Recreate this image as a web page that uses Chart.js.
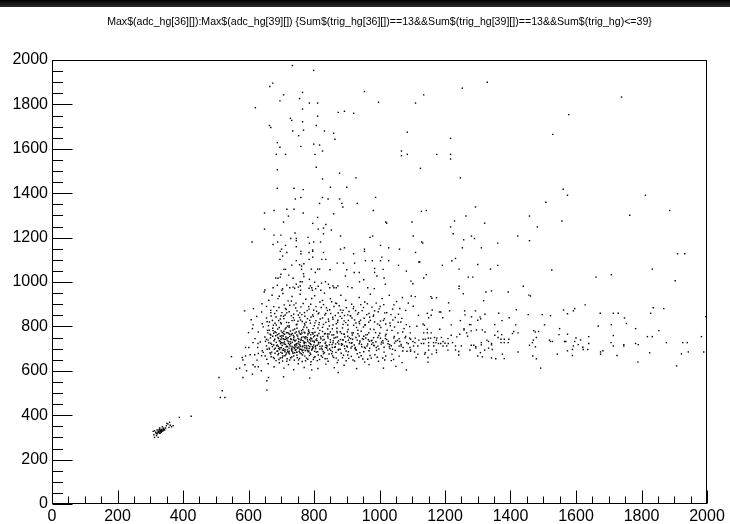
<!DOCTYPE html>
<html>
<head>
<meta charset="utf-8">
<script src="https://cdn.jsdelivr.net/npm/chart.js@4"></script>
<style>
  body { margin: 0; background: #fff; }
  #wrap { position: relative; width: 730px; height: 524px; }
  #topbar { position: absolute; left: 0; top: 0; width: 730px; height: 7px;
            background: linear-gradient(to bottom, #000, #2a2a2a); }
</style>
</head>
<body>
<div id="wrap">
  <canvas id="scatter" width="730" height="524"></canvas>
  <div id="topbar"></div>
</div>
<script>
const TITLE = 'Max$(adc_hg[36][]):Max$(adc_hg[39][]) {Sum$(trig_hg[36][])==13&&Sum$(trig_hg[39][])==13&&Sum$(trig_hg)<=39}';
const X_RANGE = [0, 2000];
const Y_RANGE = [0, 2000];

// small blob near (330, 330)
const lowCluster = [
  [313,330],[317,323],[311,312],[319,308],[324,327],[327,333],[331,330],[334,336],[339,338],[344,333],
  [341,342],[337,348],[349,353],[354,360],[359,368],[365,348],[370,353],[357,345],[347,342],[329,318],
  [324,300],[321,315],[334,323],[313,300],[327,327],[331,325],[335,330],[339,330],[343,336],[321,333],
  [309,327],[329,342],[351,363],[361,355],[389,390],[425,395],[326,322],[330,320],[336,327],[322,320],
  [318,318],[333,333],[340,335],[328,336]
];

// left rising edge of the main blob
const risingArm = [
  [520,510],[514,480],[528,480],[510,570],[594,600],[583,649],[591,667],[605,672],[619,672],[630,678],
  [626,648],[614,627],[620,618],[630,618],[589,627],[601,705],[614,727],[629,723],[656,555],[787,567],
  [874,592],[612,585],[656,513],[1082,604],[707,573],[639,600],[793,604],[548,664],[563,608],[573,612],
  [588,870],[583,570],[581,660],[600,772],[614,807],[591,705],[661,570]
];

// dense core 600..1090
const coreDense = [
  [648,955],[672,940],[690,925],[705,948],[721,915],[733,935],[745,905],[758,945],[775,922],[790,900],
  [802,938],[818,910],[832,950],[850,925],[866,905],[882,940],[897,918],[915,900],[938,930],[955,910],
  [972,945],[990,905],[1008,925],[1030,940],[1052,912],[1070,930],[1088,905],
  [615,880],[640,865],[655,890],[668,872],[680,858],[693,885],[702,862],[715,876],[726,895],[738,855],
  [748,870],[760,888],[771,862],[785,878],[796,852],[808,868],[822,885],[836,858],[848,875],[861,890],
  [874,860],[889,872],[903,852],[920,880],[936,862],[951,885],[968,858],[985,870],[1002,890],[1022,862],
  [1040,878],[1058,855],[1080,872],
  [608,830],[625,845],[642,812],[655,838],[664,820],[676,805],[684,842],[692,826],[700,812],[708,835],
  [716,818],[724,803],[731,848],[740,828],[748,810],[756,840],[764,822],[772,806],[780,835],[789,815],
  [798,845],[806,826],[815,808],[826,838],[836,818],[847,802],[858,832],[868,812],[880,845],[892,825],
  [903,806],[916,838],[928,815],[942,828],[956,808],[970,842],[985,820],[1000,805],[1015,835],[1032,815],
  [1048,840],[1065,820],[1082,808],
  [612,790],[630,775],[645,798],[658,782],[666,765],[674,792],[681,776],[688,762],[694,795],[700,780],
  [706,768],[712,788],[718,772],[724,796],[730,762],[736,784],[742,770],[748,792],[754,778],[760,764],
  [766,786],[772,770],[778,795],[784,778],[790,762],[797,790],[803,774],[810,760],[818,782],[826,796],
  [834,768],[842,788],[850,775],[860,762],[870,792],[880,776],[892,764],[904,786],[916,770],[930,795],
  [944,778],[958,762],[972,788],[988,772],[1004,795],[1020,765],[1038,782],[1056,770],[1075,790],
  [620,745],[636,730],[650,752],[660,738],[668,724],[674,756],[680,742],[685,728],[690,750],[694,735],
  [698,722],[702,758],[706,744],[710,730],[714,752],[718,738],[722,724],[726,755],[730,741],[734,728],
  [738,749],[742,734],[746,722],[750,756],[754,742],[758,728],[762,750],[766,736],[770,723],[775,754],
  [780,740],[785,726],[790,748],[796,734],[802,758],[808,744],[814,728],[820,752],[827,738],[834,724],
  [842,756],[850,740],[858,726],[866,750],[875,735],[884,722],[894,752],[905,738],[916,726],[928,750],
  [940,734],[952,756],[966,740],[980,726],[995,750],[1010,735],[1026,722],[1044,748],[1062,732],[1080,755],
  [628,705],[642,690],[655,712],[664,698],[671,684],[677,716],[682,702],[687,688],[691,710],[695,696],
  [699,683],[703,714],[707,700],[711,686],[715,708],[719,694],[723,681],[727,712],[731,698],[735,685],
  [739,706],[743,692],[747,716],[751,702],[755,688],[759,710],[763,696],[767,682],[772,714],[777,700],
  [782,686],[787,708],[793,694],[799,716],[805,700],[811,686],[818,710],[825,696],[832,682],[840,712],
  [848,698],[856,686],[865,708],[874,694],[884,715],[894,700],[905,686],[916,710],[928,695],[940,682],
  [954,706],[968,690],[982,714],[998,698],[1014,684],[1030,708],[1048,692],[1066,712],[1084,688],
  [640,668],[656,652],[668,675],[676,660],[684,646],[690,672],[697,658],[704,644],[711,668],[718,654],
  [725,676],[732,662],[740,648],[748,670],[756,656],[764,642],[772,666],[781,652],[790,674],[800,660],
  [810,646],[822,668],[834,654],[846,676],[860,660],[874,648],[890,670],[906,656],[924,644],[944,668],
  [964,652],[986,672],[1010,658],[1036,646],[1060,666],
  [660,632],[678,618],[694,636],[708,612],[722,628],[738,605],[752,632],[770,615],[790,628],[812,610],
  [836,630],[862,614],[892,625],[930,610],[968,628],[1012,612],[1050,620],
  [692,745],[697,731],[701,748],[705,726],[709,741],[713,719],[717,746],[721,733],[725,718],[729,744],
  [733,710],[737,740],[741,715],[745,738],[749,705],[753,732],[757,716],[761,742],[765,708],[769,730],
  [773,745],[777,712],[781,734],[785,700],[789,722],[793,744],[797,706],[801,728],[805,712],[809,736],
  [700,704],[708,692],[716,680],[724,702],[732,690],[740,700],[748,684],[756,698],[764,690],[772,704],
  [780,692],[788,680],[796,702],[710,765],[722,770],[734,768],[746,775],[758,766],[770,774],[782,768],
  [794,772],
  [835,705],[855,718],[872,728],[888,740],[900,712],[912,745],[925,700],[938,722],[948,745],[962,712],
  [975,735],[990,705],[1005,720],[1018,745],[1032,700],[1046,725],[1060,745],[1072,705],[1088,722]
];

// more of the core, filling the darkest part
const coreExtra = [
  [652,733],[659,771],[663,702],[667,748],[671,719],[675,781],[679,697],[683,758],[686,713],[689,689],
  [693,767],[696,704],[699,741],[703,679],[706,757],[709,721],[712,695],[716,772],[719,708],[721,749],
  [724,688],[727,731],[731,765],[733,703],[736,679],[739,753],[742,717],[745,696],[748,761],[751,724],
  [754,707],[757,681],[760,737],[763,770],[766,712],[769,693],[772,751],[775,727],[778,703],[781,762],
  [784,689],[787,741],[791,718],[794,697],[797,766],[801,733],[804,708],[807,684],[811,757],[814,721],
  [818,698],[821,744],[825,712],[828,687],[832,766],[836,729],[839,703],[843,748],[847,717],[851,692],
  [855,761],[859,735],[863,706],[867,683],[871,752],[876,721],[880,697],[884,768],[889,738],[893,711],
  [898,689],[903,756],[908,727],[913,703],[918,742],[923,716],[929,694],[934,767],[940,729],[946,708],
  [952,686],[958,748],[964,721],[970,701],[977,737],[984,714],[991,692],[998,759],[1006,729],[1014,706],
  [1022,741],[1031,718],[1040,697],[1050,733],[1060,711],[1071,689],[1083,727],
  [641,902],[662,918],[677,889],[694,936],[709,897],[717,861],[731,914],[744,883],[752,851],[767,903],
  [779,871],[793,926],[806,889],[813,857],[829,898],[841,872],[854,911],[865,849],[877,893],[886,862],
  [899,884],[912,847],[927,871],[943,898],[961,853],[977,887],[996,866],[1013,898],[1035,853],[1062,881],
  [657,821],[669,847],[681,814],[697,833],[712,851],[723,817],[737,839],[751,823],[763,853],[776,819],
  [791,842],[803,816],[819,833],[833,851],[845,823],[857,841],[872,819],[885,836],[897,817],[911,848],
  [924,829],[939,812],[953,837],[967,819],[981,845],[1003,824],[1019,811],[1041,829],[1068,836],
  [663,783],[677,769],[689,788],[703,773],[715,794],[728,779],[741,788],[755,771],[769,797],[783,784],
  [797,771],[812,793],[826,777],[841,766],[856,789],[871,771],[887,793],[902,775],[917,761],[934,783],
  [951,797],[967,771],[983,786],[1001,769],[1023,783],[1046,797],[1071,775],
  [645,683],[657,697],[669,663],[681,679],[693,651],[705,667],[717,643],[729,659],[741,681],[753,649],
  [765,671],[777,657],[791,641],[803,663],[817,651],[829,677],[843,643],[857,667],[871,637],[887,659],
  [903,671],[919,649],[937,661],[955,639],[975,657],[997,643],[1019,667],[1043,651],[1069,637]
];

// third pass over the core
const coreExtra2 = [
  [655,742],[662,726],[668,761],[673,709],[678,735],[684,772],[688,716],[692,701],[697,756],[701,727],
  [704,693],[708,778],[713,742],[717,711],[720,686],[725,765],[729,723],[732,696],[737,759],[740,737],
  [744,708],[747,683],[751,746],[755,719],[759,697],[762,781],[767,753],[771,729],[774,691],[779,749],
  [783,713],[786,771],[790,734],[795,709],[799,753],[802,688],[806,739],[810,715],[815,768],[819,727],
  [823,702],[827,755],[831,741],[837,715],[842,693],[846,766],[850,729],[856,705],[861,748],[866,721],
  [870,777],[875,697],[881,741],[887,719],[892,766],[897,731],[902,707],[908,749],[914,724],[920,771],
  [926,705],[932,738],[938,757],[945,719],[951,741],[957,702],[963,763],[969,733],[976,719],[982,749],
  [989,731],[995,711],[1003,747],[1011,725],[1018,757],[1027,733],[1036,713],[1045,755],[1055,737],[1066,719],
  [1078,749],
  [668,862],[686,871],[699,848],[713,881],[724,866],[739,897],[757,861],[772,846],[784,889],[799,873],
  [815,861],[826,917],[838,884],[851,858],[869,903],[881,874],[893,849],[907,867],[921,889],[933,855],
  [947,871],[963,902],[982,851],[999,879],[1016,861],[1044,897],
  [661,803],[673,827],[685,806],[698,817],[707,846],[719,801],[733,826],[746,807],[759,829],[771,813],
  [787,827],[801,803],[816,817],[829,809],[844,833],[858,806],[873,828],[889,809],[905,827],[921,805],
  [938,821],[956,805],[972,827],[994,811],[1012,827],[1033,803],[1057,819],
  [651,667],[666,681],[679,655],[692,678],[703,659],[714,673],[726,649],[738,667],[749,659],[761,677],
  [774,645],[786,669],[798,651],[813,671],[826,661],[840,655],[854,677],[868,657],[883,679],[898,645],
  [914,665],[932,677],[949,653],[971,669],[993,661],[1016,649],[1038,675]
];

// band going right, 1090..2000
const bandRight = [
  [1097,937],[1109,934],[1157,934],[1160,927],[1174,929],[1256,947],[1325,955],[1393,955],[1456,941],[1461,937],
  [1211,906],[1318,916],[1103,891],[1161,874],[1183,865],[1187,865],[1146,859],[1119,850],[1158,850],[1150,839],
  [1214,870],[1260,870],[1293,870],[1261,852],[1281,843],[1322,855],[1364,859],[1418,875],[1307,843],[1309,834],
  [1300,828],[1396,839],[1454,853],[1497,853],[1522,848],[1562,874],[1574,857],[1193,839],[1247,826],[1374,826],
  [1133,811],[1137,805],[1114,801],[1092,799],[1219,807],[1275,808],[1279,808],[1352,808],[1416,807],[1504,807],
  [1146,787],[1184,787],[1258,790],[1258,784],[1314,784],[1280,780],[1296,784],[1322,775],[1361,777],[1410,777],
  [1550,790],[1471,781],[1476,775],[1486,777],[1094,771],[1135,771],[1146,771],[1158,771],[1219,760],[1236,753],
  [1245,765],[1266,771],[1269,756],[1352,760],[1362,750],[1373,763],[1371,742],[1381,742],[1406,768],[1423,771],
  [1395,742],[1548,763],[1574,765],[1092,747],[1095,742],[1109,747],[1120,738],[1133,742],[1140,742],[1149,747],
  [1156,747],[1168,750],[1175,747],[1174,738],[1189,750],[1209,745],[1328,738],[1333,732],[1342,723],[1342,717],
  [1470,738],[1479,750],[1519,738],[1522,732],[1528,732],[1565,732],[1569,732],[1102,732],[1108,727],[1128,723],
  [1135,723],[1150,727],[1165,727],[1172,727],[1180,723],[1187,723],[1194,732],[1200,724],[1210,723],[1223,727],
  [1280,715],[1288,715],[1311,727],[1311,717],[1371,727],[1381,727],[1393,727],[1458,715],[1467,727],[1476,708],
  [1093,705],[1104,712],[1117,712],[1150,712],[1166,712],[1194,712],[1205,712],[1232,712],[1250,712],[1294,708],
  [1294,702],[1276,694],[1333,702],[1344,696],[1321,693],[1095,694],[1095,688],[1107,685],[1140,682],[1150,693],
  [1174,693],[1174,682],[1209,693],[1232,694],[1242,687],[1242,671],[1308,682],[1375,675],[1423,685],[1468,667],
  [1543,675],[1574,690],[1117,675],[1138,675],[1160,675],[1300,667],[1314,663],[1342,658],[1355,654],[1381,655],
  [1479,654],[1112,660],[1148,660],[1148,639],[1492,612],
  [1628,897],[1596,880],[1592,870],[1674,859],[1714,859],[1729,859],[1748,838],[1836,884],[1868,880],[1828,859],
  [1996,844],[1668,802],[1708,808],[1754,813],[1782,790],[1853,781],[1600,748],[1596,732],[1607,718],[1614,739],
  [1639,754],[1592,712],[1621,706],[1622,696],[1636,696],[1639,723],[1589,696],[1589,669],[1714,759],[1707,727],
  [1714,712],[1746,718],[1746,712],[1782,723],[1790,718],[1818,754],[1833,754],[1876,727],[1926,727],[1940,727],
  [1983,754],[1682,690],[1675,685],[1675,675],[1725,669],[1825,681],[1922,676],[1943,685],[1990,685],[1789,639],
  [1907,622]
];

// sparse events above ~950
const upperSpread = [
  [734,1975],[799,1953],[674,1896],[665,1881],[707,1843],[765,1854],[696,1816],[756,1826],[786,1806],[811,1806],
  [621,1785],[765,1779],[954,1858],[997,1810],[1135,1843],[1110,1806],[1253,1873],[1329,1900],[874,1764],[893,1769],
  [921,1760],[811,1747],[728,1737],[732,1728],[765,1722],[664,1705],[668,1696],[807,1705],[735,1680],[768,1684],
  [832,1680],[860,1670],[753,1659],[864,1643],[1085,1675],[1217,1647],[688,1628],[696,1607],[760,1611],[799,1621],
  [817,1617],[826,1590],[685,1575],[713,1575],[803,1575],[1067,1590],[1067,1569],[1085,1575],[1175,1575],[1217,1575],
  [1217,1554],[688,1506],[807,1517],[1125,1512],[826,1464],[878,1490],[928,1469],[1247,1469],[688,1422],[739,1422],
  [767,1416],[850,1427],[900,1427],[743,1374],[760,1381],[826,1381],[843,1374],[878,1374],[988,1381],[885,1354],
  [888,1338],[932,1354],[817,1354],[649,1311],[678,1322],[717,1328],[739,1328],[767,1311],[722,1297],[811,1291],
  [860,1307],[981,1322],[1128,1318],[1143,1322],[1293,1338],[1264,1297],[707,1270],[796,1264],[836,1259],[1019,1270],
  [1022,1265],[1099,1270],[1229,1275],[1217,1248],[1321,1265],[649,1238],[813,1238],[829,1243],[853,1234],[678,1211],
  [699,1211],[742,1221],[829,1217],[881,1207],[971,1201],[979,1207],[1103,1207],[1225,1217],[1281,1207],[1290,1196],
  [611,1180],[675,1169],[689,1180],[713,1165],[729,1196],[746,1196],[746,1186],[782,1201],[786,1175],[799,1180],
  [820,1180],[1129,1180],[1132,1175],[1257,1190],[1361,1175],[701,1148],[697,1138],[717,1133],[746,1159],[760,1138],
  [760,1127],[785,1133],[796,1144],[796,1138],[829,1133],[881,1148],[893,1154],[921,1127],[954,1148],[954,1138],
  [1003,1165],[1028,1154],[1061,1148],[1110,1133],[1253,1154],[1311,1154],[704,1117],[696,1102],[746,1096],[785,1102],
  [796,1112],[824,1102],[836,1102],[957,1096],[978,1096],[1003,1096],[1007,1112],[1028,1096],[1221,1096],[1232,1106],
  [1739,1833],[1578,1754],[1529,1665],[1561,1418],[1574,1391],[1508,1359],[1812,1391],[1886,1322],[1764,1301],[1458,1297],
  [1557,1275],[1482,1248],[1422,1207],[1458,1186],[1910,1127],[1932,1127],[1123,1090],[1192,1075],[1300,1079],[1339,1058],
  [1361,1075],[1243,1058],[1143,1033],[1135,1018],[1271,1022],[1285,1022],[1243,981],[1243,970],[1342,960],[1439,981],
  [1526,1054],[1661,1022],[1708,1033],[1833,1058],[1903,1006],
  [871,1085],[890,1085],[924,1085],[1058,1075],[1082,1049],[1096,1004],[1102,992],[1120,1090],[1011,1057],[985,1061],
  [985,1043],[992,1027],[1014,1018],[1018,990],[984,970],[964,974],[952,1010],[923,1043],[938,1043],[939,1001],
  [900,1055],[896,1027],[903,979],[916,974],[873,982],[868,974],[861,974],[858,982],[849,1055],[835,1001],
  [844,990],[823,995],[813,981],[802,999],[789,983],[793,974],[785,972],[804,1043],[811,1058],[817,1058],
  [792,1058],[768,1037],[769,1025],[762,1057],[762,1072],[756,1078],[769,1082],[786,1012],[758,1001],[764,1001],
  [758,982],[746,990],[736,1017],[732,1076],[723,1031],[713,1057],[708,1057],[699,1035],[697,1022],[690,1017],
  [683,1018],[688,985],[704,970],[702,963],[717,986],[726,974],[736,977],[741,972],[675,974],[650,964],
  [752,977],[759,963],[795,963],[805,970],[821,963],[848,974]
];

const allEvents = [].concat(lowCluster, risingArm, coreDense, coreExtra, coreExtra2, bandRight, upperSpread)
  .map(p => ({ x: p[0], y: p[1] }));

// ROOT-like frame, inward ticks and title
const rootFrame = {
  id: 'rootFrame',
  afterDraw(chart) {
    const ctx = chart.ctx;
    const a = chart.chartArea;
    const xs = chart.scales.x, ys = chart.scales.y;
    ctx.save();
    ctx.strokeStyle = '#000';
    ctx.lineWidth = 1;
    const L = Math.round(a.left) + 0.5, R = Math.round(a.right) - 0.5;
    const T = Math.round(a.top) + 0.5, B = Math.round(a.bottom) - 0.5;
    ctx.strokeRect(L, T, R - L, B - T);
    ctx.beginPath();
    for (let v = X_RANGE[0]; v <= X_RANGE[1]; v += 50) {
      const px = Math.round(xs.getPixelForValue(v)) + 0.5;
      const len = v % 200 === 0 ? 13 : 7;
      ctx.moveTo(px, B);
      ctx.lineTo(px, B - len);
    }
    for (let v = Y_RANGE[0]; v <= Y_RANGE[1]; v += 50) {
      const py = Math.round(ys.getPixelForValue(v)) + 0.5;
      const len = v % 200 === 0 ? 20 : 10.5;
      ctx.moveTo(L, py);
      ctx.lineTo(L + len, py);
    }
    ctx.stroke();
    ctx.fillStyle = '#000';
    ctx.font = '10.6px "Liberation Sans", Arial, sans-serif';
    ctx.textAlign = 'center';
    ctx.textBaseline = 'middle';
    ctx.fillText(TITLE, (a.left + a.right) / 2, 22);
    ctx.restore();
  }
};

const tickFont = { family: '"Liberation Sans", Arial, sans-serif', size: 16 };
const plainNumber = v => String(v);

new Chart(document.getElementById('scatter'), {
  type: 'scatter',
  data: {
    datasets: [{
      data: allEvents,
      pointStyle: 'rect',
      pointRadius: 1,
      pointHoverRadius: 1,
      borderWidth: 0,
      backgroundColor: '#000'
    }]
  },
  options: {
    responsive: false,
    animation: false,
    events: [],
    layout: { padding: { top: 60, right: 23, left: 0, bottom: 0 } },
    plugins: { legend: { display: false }, tooltip: { enabled: false } },
    scales: {
      x: {
        type: 'linear', min: X_RANGE[0], max: X_RANGE[1],
        border: { display: false },
        grid: { display: false, drawTicks: false },
        ticks: { stepSize: 200, color: '#000', font: tickFont, padding: 3, maxRotation: 0, callback: plainNumber },
        afterFit(scale) { scale.height = 20; }
      },
      y: {
        type: 'linear', min: Y_RANGE[0], max: Y_RANGE[1],
        border: { display: false },
        grid: { display: false, drawTicks: false },
        ticks: { stepSize: 200, color: '#000', font: tickFont, padding: 4, callback: plainNumber },
        afterFit(scale) { scale.width = 52; }
      }
    }
  },
  plugins: [rootFrame]
});
</script>
</body>
</html>
